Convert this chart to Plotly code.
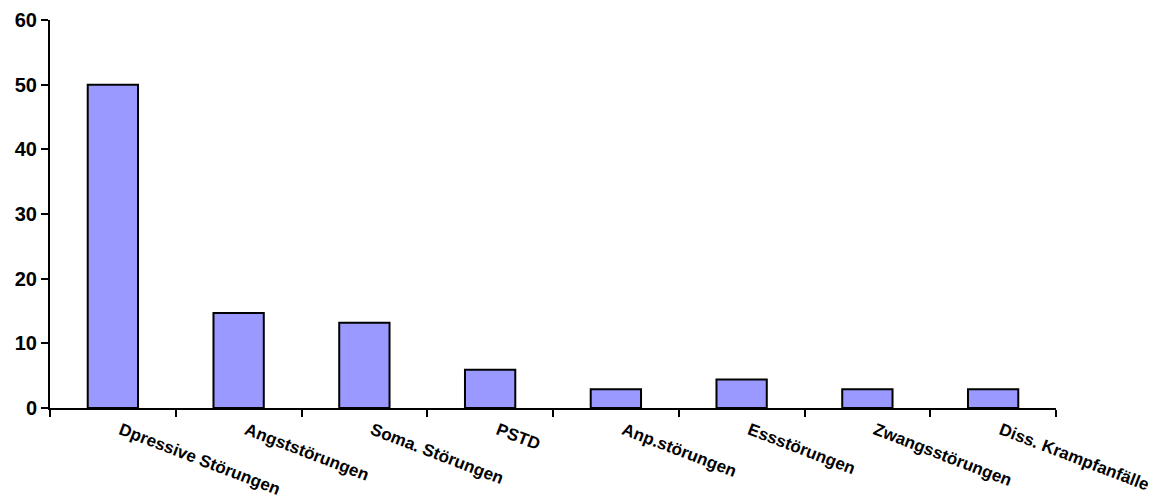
import plotly.graph_objects as go

categories = ["Dpressive Störungen", "Angststörungen", "Soma. Störungen", "PSTD",
              "Anp.störungen", "Essstörungen", "Zwangsstörungen", "Diss. Krampfanfälle"]
values = [50.0, 14.7, 13.2, 5.9, 2.9, 4.4, 2.9, 2.9]
y_ticks = [0, 10, 20, 30, 40, 50, 60]

fig = go.Figure(go.Bar(
    x=categories, y=values,
    marker=dict(color="#9999FF", line=dict(color="black", width=2)),
))

fig.update_layout(
    width=1165, height=497,
    margin=dict(l=42, r=117, t=12, b=97),
    paper_bgcolor="white", plot_bgcolor="white",
    bargap=0.6, showlegend=False,
    font=dict(family="Liberation Sans, Arial", color="black"),
)
fig.update_xaxes(
    automargin=False,
    showline=True, linecolor="black", linewidth=2,
    ticks="outside", ticklen=7, tickwidth=2, tickcolor="black",
    tickson="boundaries", tickangle=21,
    ticklabelshift=8, ticklabelstandoff=4,
    tickfont=dict(size=17, family="Liberation Sans, Arial", weight="bold"),
    showgrid=False, zeroline=False,
)
fig.update_yaxes(
    automargin=False,
    range=[0, 60], tickvals=y_ticks,
    showline=True, linecolor="black", linewidth=2,
    ticks="outside", ticklen=7, tickwidth=2, tickcolor="black",
    tickfont=dict(size=20, family="Liberation Sans, Arial", weight="bold"),
    showgrid=False, zeroline=False,
)

fig.write_html("out.html")
